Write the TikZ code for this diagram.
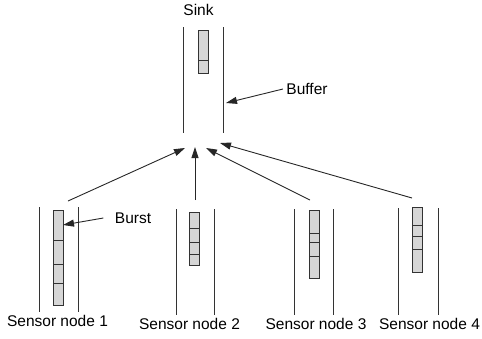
\documentclass[tikz,border=0pt]{standalone}
\usepackage{fontspec}
\setmainfont{Liberation Sans}
\usetikzlibrary{arrows.meta}

\begin{document}
\begin{tikzpicture}[x=1pt,y=-1pt,font=\fontsize{15.5}{18}\selectfont,
  wall/.style={draw=black!80,line width=0.9pt},
  slot/.style={draw=black!80,fill=black!16,line width=0.8pt},
  ptr/.style={draw=black!85,line width=0.9pt,-{Triangle[length=11pt,width=7pt]}}]
\useasboundingbox (0,0) rectangle (482,338);
% sink with its buffer
\node (sink) at (198.5,10) {Sink};
\draw[wall] (183,27) -- (183,133);
\draw[wall] (223,27) -- (223,133);
\draw[slot] (198,30) rectangle (208,73);
\draw[wall] (198,60) -- (208,60);
\coordinate (buf_in) at (226,103);
\node (buffer) at (307,89) {Buffer};
\draw[ptr] (buffer.west) -- (buf_in);
\coordinate (in_1) at (185,148);
\coordinate (in_2) at (195,147);
\coordinate (in_3) at (206,148);
\coordinate (in_4) at (220,143);
% sensor nodes: walls, burst slots, labels
\foreach \i/\xl/\xr/\top/\bx/\btop/\bbot/\divs/\lx/\ly/\ox/\oy in {
  1/39/78/207/53/210/305/{240,264,283}/57.5/321/68/201,
  2/176/214/209/189/212/265/{228,242,254}/189.5/324/195/200,
  3/294/333/209/309/210/278/{233,242,256}/316/324/310/200,
  4/398/438/208/412/207/272/{225,236,249}/429.5/324/412/198} {
  \pgfmathsetmacro{\bot}{\ly-9};
  \draw[wall] (\xl,\top) -- (\xl,\bot);
  \draw[wall] (\xr,\top) -- (\xr,\bot);
  \draw[slot] (\bx,\btop) rectangle (\bx+10,\bbot);
  \foreach \d in \divs
    \draw[wall] (\bx,\d) -- (\bx+10,\d);
  \node (s_\i) at (\lx,\ly) {Sensor node \i};
  \coordinate (out_\i) at (\ox,\oy);
}
\foreach \i in {1,...,4}
  \draw[ptr] (out_\i) -- (in_\i);
\coordinate (burst_in) at (63,225);
\node (burst) at (133,218) {Burst};
\draw[ptr] ([xshift=-8pt]burst.west) -- (burst_in);
\end{tikzpicture}
\end{document}
